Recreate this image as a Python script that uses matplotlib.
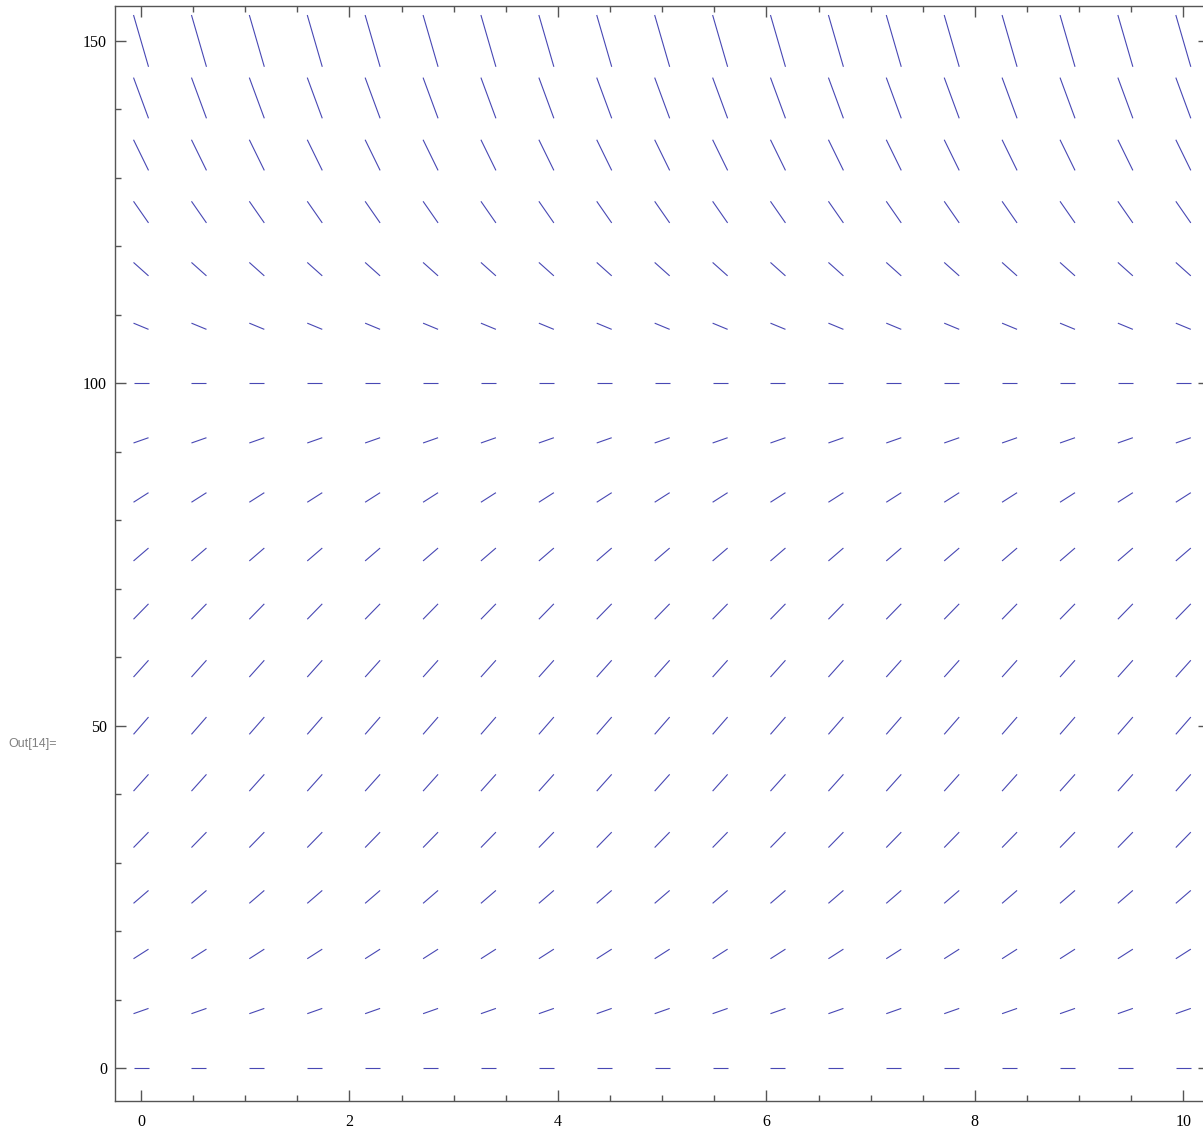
import matplotlib
matplotlib.use('Agg')
import matplotlib.pyplot as plt
from matplotlib.ticker import MultipleLocator

# sample grid of the slope field
x_points = [0.0, 0.556, 1.111, 1.667, 2.222, 2.778, 3.333, 3.889, 4.444, 5.0,
            5.556, 6.111, 6.667, 7.222, 7.778, 8.333, 8.889, 9.444, 10.0]
y_levels = [0.0, 8.33, 16.67, 25.0, 33.33, 41.67, 50.0, 58.33, 66.67, 75.0,
            83.33, 91.67, 100.0, 108.33, 116.67, 125.0, 133.33, 141.67, 150.0]
# slope dy/dx (same for every column)
row_slopes = [0.0, 5.35, 9.72, 13.1, 15.6, 17.0, 17.5, 17.0, 15.6, 13.1,
              9.72, 5.35, 0.0, -6.3, -13.6, -21.9, -31.1, -41.3, -52.5]

half_dx = 0.072
line_color = '#4848b4'

fig = plt.figure(figsize=(12.03, 11.30), dpi=100)
ax = fig.add_axes([0.0953, 0.0257, 0.9100, 0.969])

for y, s in zip(y_levels, row_slopes):
    for x in x_points:
        ax.plot([x - half_dx, x + half_dx], [y - half_dx * s, y + half_dx * s],
                color=line_color, lw=0.8, solid_capstyle='butt')

ax.set_xlim(-0.253, 10.25)
ax.set_ylim(-4.8, 155.1)

ax.xaxis.set_major_locator(MultipleLocator(2))
ax.xaxis.set_minor_locator(MultipleLocator(0.5))
ax.yaxis.set_major_locator(MultipleLocator(50))
ax.yaxis.set_minor_locator(MultipleLocator(10))

frame_col = '#555555'
for sp in ax.spines.values():
    sp.set_color(frame_col)
    sp.set_linewidth(1.0)

ax.tick_params(which='both', direction='in', top=True, right=True, color=frame_col, width=1.0)
ax.tick_params(which='major', length=8)
ax.tick_params(which='minor', length=4)
ax.tick_params(axis='x', which='major', pad=9.5)
ax.tick_params(axis='y', which='major', pad=5.5)

for lab in ax.get_xticklabels() + ax.get_yticklabels():
    lab.set_family('Liberation Serif')
    lab.set_fontsize(11.5)

fig.text(0.007, 0.342, 'Out[14]=', color='#808080', fontsize=9, family='Liberation Sans',
         ha='left', va='center')

fig.savefig('out.png', dpi=100)
